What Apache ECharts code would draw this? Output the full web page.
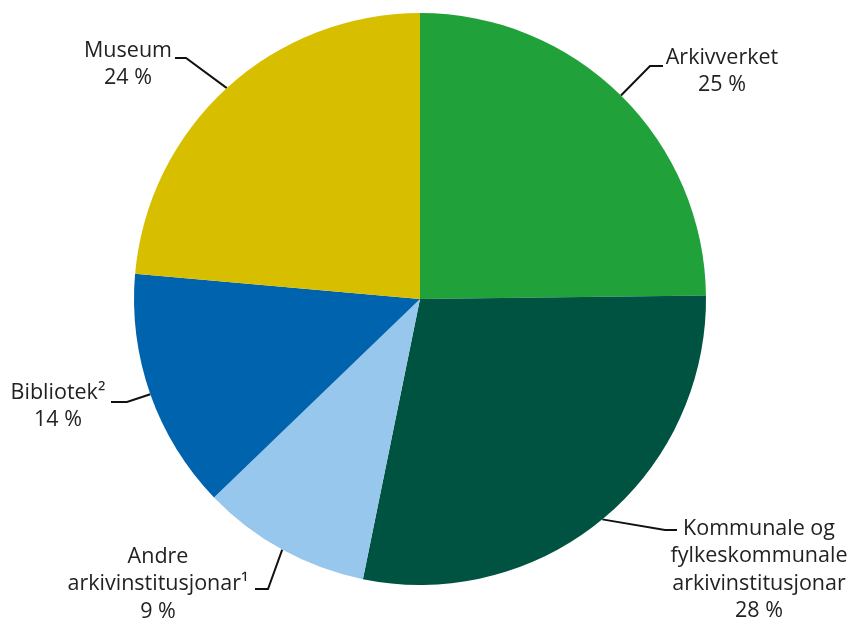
<!DOCTYPE html>
<html>
<head>
<meta charset="utf-8">
<script src="https://cdn.jsdelivr.net/npm/echarts@6/dist/echarts.min.js"></script>
<style>
  html, body { margin: 0; padding: 0; background: #fff; }
  #chart { width: 849px; height: 626px; }
</style>
</head>
<body>
<div id="chart"></div>
<script>
// slice data, clockwise from 12 o'clock
var categories = ['Arkivverket', 'Kommunale og\nfylkeskommunale\narkivinstitusjonar', 'Andre\narkivinstitusjonar\u00b9', 'Bibliotek\u00b2', 'Museum'];
var shares = [24.8, 28.4, 9.6, 13.6, 23.6];
var shareLabels = ['25 %', '28 %', '9 %', '14 %', '24 %'];
var colors = ['#21a13a', '#005341', '#97c7ec', '#0063ae', '#d7bf00'];

// label anchor (text centre x, top y) and elbow of the leader line
var labelPos = [
    { x: 722, y: 44, elbow: [650, 66], end: [663, 66] },
    { x: 759, y: 515, elbow: [665, 530], end: [677, 530] },
    { x: 158, y: 543, elbow: [268, 589], end: [255, 589] },
    { x: 58, y: 379, elbow: [127, 402], end: [111, 402] },
    { x: 128, y: 37, elbow: [186, 58], end: [175, 58] }
];

var myChart = echarts.init(document.getElementById('chart'));

var pieData = [];
for (var i = 0; i < categories.length; i++) {
    pieData.push({
        name: categories[i],
        value: shares[i],
        itemStyle: { color: colors[i] }
    });
}

var option = {
    animation: false,
    textStyle: { fontFamily: 'Open Sans' },
    series: [
        {
            type: 'pie',
            center: [420, 299],
            radius: [0, 286],
            startAngle: 90,
            clockwise: true,
            data: pieData,
            label: {
                show: true,
                fontFamily: 'Open Sans',
                fontSize: 21.5,
                lineHeight: 27.5,
                color: '#222',
                align: 'center',
                overflow: 'none',
                edgeDistance: 0,
                bleedMargin: 0,
                formatter: function (p) {
                    return p.name + '\n' + shareLabels[p.dataIndex];
                }
            },
            labelLine: {
                show: true,
                lineStyle: { color: '#111', width: 2 }
            },
            labelLayout: function (params) {
                var pos = labelPos[params.dataIndex];
                var start = params.labelLinePoints[0];
                return {
                    x: pos.x,
                    y: pos.y,
                    align: 'center',
                    verticalAlign: 'top',
                    labelLinePoints: [start, pos.elbow, pos.end]
                };
            },
            emphasis: { disabled: true }
        }
    ]
};

myChart.setOption(option);
</script>
</body>
</html>
